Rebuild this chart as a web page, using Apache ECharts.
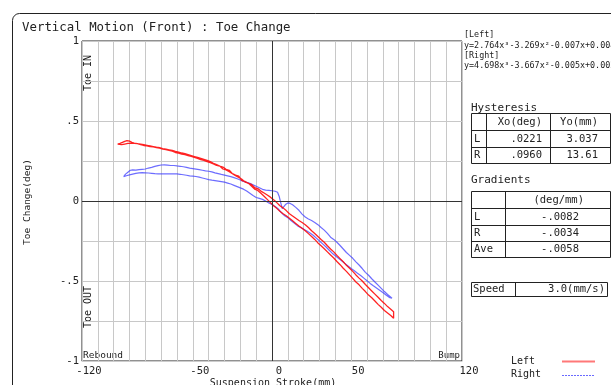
<!DOCTYPE html>
<html><head><meta charset="utf-8">
<script src="https://cdn.jsdelivr.net/npm/echarts@6/dist/echarts.min.js"></script>
<style>html,body{margin:0;padding:0;background:#fff}#c{width:611px;height:385px}</style>
</head><body><div id="c"></div>
<script>
// ---------- data ----------
const xTickLabels = [-120, -50, 0, 50, 120];
const yTickLabels = {'1': '1', '0.5': '.5', '0': '0', '-0.5': '-.5', '-1': '-1'};
const seriesNames = ['Left', 'Right'];
const leftOut = [[-97.5,0.356],[-96,0.360],[-94.5,0.366],[-93,0.373],[-91.6,0.378],[-90,0.374],[-88.5,0.366],[-87,0.362],[-85,0.358],[-83,0.352],[-81,0.347],[-79,0.345],[-77,0.340],[-75,0.338],[-73,0.333],[-71,0.330],[-69,0.324],[-67,0.321],[-65,0.316],[-63,0.311],[-61,0.303],[-59,0.299],[-57,0.293],[-55,0.290],[-53,0.284],[-51,0.279],[-49,0.272],[-47,0.266],[-45,0.258],[-43,0.254],[-41,0.246],[-39,0.240],[-37,0.232],[-35,0.222],[-33,0.218],[-31,0.200],[-29,0.194],[-27,0.183],[-25,0.171],[-23,0.162],[-21,0.155],[-19,0.128],[-17,0.122],[-15,0.110],[-13,0.104],[-11,0.084],[-9,0.078],[-7,0.062],[-5,0.050],[-3,0.037],[-1,0.024],[1,0.008],[3,-0.010],[5,-0.030],[7,-0.043],[9,-0.060],[11,-0.080],[13,-0.094],[15,-0.108],[17,-0.122],[19,-0.134],[21,-0.148],[23,-0.166],[25,-0.186],[27,-0.203],[29,-0.222],[31,-0.241],[33,-0.258],[35,-0.280],[37,-0.300],[39,-0.318],[41,-0.340],[43,-0.360],[45,-0.380],[47,-0.402],[49,-0.420],[51,-0.440],[53,-0.462],[55,-0.482],[57,-0.500],[59,-0.522],[61,-0.542],[63,-0.562],[65,-0.582],[67,-0.602],[69,-0.622],[71,-0.640],[73,-0.660],[75,-0.676],[76.8,-0.692]];
const leftBack = [[76.8,-0.733],[75,-0.716],[73,-0.700],[71,-0.684],[69,-0.664],[67,-0.646],[65,-0.625],[63,-0.605],[61,-0.588],[59,-0.566],[57,-0.546],[55,-0.524],[53,-0.506],[51,-0.484],[49,-0.462],[47,-0.440],[45,-0.420],[43,-0.398],[41,-0.378],[39,-0.356],[37,-0.338],[35,-0.318],[33,-0.298],[31,-0.280],[29,-0.262],[27,-0.240],[25,-0.222],[23,-0.204],[21,-0.186],[19,-0.170],[17,-0.156],[15,-0.140],[13,-0.124],[11,-0.108],[9,-0.092],[7,-0.080],[5,-0.064],[3,-0.046],[1,-0.030],[-1,-0.010],[-3,0.010],[-5,0.030],[-7,0.048],[-9,0.066],[-11,0.074],[-13,0.094],[-15,0.112],[-17,0.118],[-19,0.136],[-21,0.148],[-23,0.158],[-25,0.170],[-27,0.192],[-29,0.198],[-31,0.212],[-33,0.218],[-35,0.228],[-37,0.236],[-39,0.246],[-41,0.254],[-43,0.260],[-45,0.266],[-47,0.272],[-49,0.278],[-51,0.284],[-53,0.290],[-55,0.296],[-57,0.300],[-59,0.306],[-61,0.310],[-63,0.316],[-65,0.320],[-67,0.324],[-69,0.328],[-71,0.333],[-73,0.336],[-75,0.340],[-77,0.344],[-79,0.348],[-81,0.352],[-83,0.356],[-85,0.358],[-87,0.360],[-89,0.362],[-91,0.360],[-93,0.356],[-95,0.352],[-97.5,0.356]];
const rightOut = [[-93.7,0.152],[-92.5,0.168],[-91,0.180],[-89.5,0.192],[-88,0.194],[-86,0.193],[-84,0.196],[-82,0.198],[-80,0.200],[-78,0.206],[-76,0.210],[-74,0.216],[-72,0.221],[-70,0.225],[-68,0.226],[-66,0.224],[-64,0.222],[-62,0.222],[-60,0.219],[-58,0.217],[-56,0.214],[-54,0.210],[-52,0.205],[-50,0.202],[-48,0.199],[-46,0.196],[-44,0.192],[-42,0.188],[-40,0.186],[-38,0.182],[-36,0.176],[-34,0.171],[-32,0.166],[-30,0.162],[-28,0.157],[-26,0.152],[-24,0.146],[-22,0.139],[-20,0.131],[-18,0.123],[-16,0.117],[-14,0.110],[-12,0.101],[-10,0.092],[-8,0.083],[-6,0.073],[-4,0.068],[-2,0.066],[0,0.064],[2,0.061],[3.5,0.055],[4.5,0.030],[5.5,-0.010],[6.5,-0.048],[7.5,-0.040],[8.5,-0.022],[10,-0.012],[11.5,-0.015],[13,-0.024],[15,-0.040],[17,-0.058],[19,-0.082],[21,-0.100],[23,-0.112],[25,-0.122],[27,-0.134],[29,-0.148],[31,-0.166],[33,-0.182],[35,-0.202],[37,-0.226],[39,-0.240],[41,-0.258],[43,-0.278],[45,-0.300],[47,-0.322],[49,-0.340],[51,-0.358],[53,-0.380],[55,-0.400],[57,-0.422],[59,-0.446],[61,-0.464],[63,-0.486],[65,-0.506],[67,-0.526],[69,-0.546],[71,-0.566],[73,-0.584],[75.8,-0.608]];
const rightBack = [[75.8,-0.620],[74,-0.602],[72,-0.588],[70,-0.572],[68,-0.558],[66,-0.544],[64,-0.530],[62,-0.515],[60,-0.498],[58,-0.482],[56,-0.466],[54,-0.452],[52,-0.436],[50,-0.422],[48,-0.406],[46,-0.390],[44,-0.374],[42,-0.358],[40,-0.342],[38,-0.326],[36,-0.306],[34,-0.286],[32,-0.268],[30,-0.250],[28,-0.232],[26,-0.214],[24,-0.200],[22,-0.188],[20,-0.176],[18,-0.166],[16,-0.154],[14,-0.138],[12,-0.122],[10,-0.104],[8,-0.092],[6,-0.074],[4,-0.050],[2,-0.034],[0,-0.022],[-2,-0.012],[-4,0.000],[-6,0.010],[-8,0.016],[-10,0.022],[-12,0.034],[-14,0.048],[-16,0.062],[-18,0.074],[-20,0.082],[-22,0.090],[-24,0.098],[-26,0.106],[-28,0.112],[-30,0.118],[-32,0.121],[-34,0.124],[-36,0.127],[-38,0.130],[-40,0.134],[-42,0.139],[-44,0.144],[-46,0.149],[-48,0.153],[-50,0.155],[-52,0.157],[-54,0.161],[-56,0.164],[-58,0.167],[-60,0.169],[-62,0.170],[-64,0.170],[-66,0.169],[-68,0.169],[-70,0.169],[-72,0.170],[-74,0.171],[-76,0.173],[-78,0.175],[-80,0.176],[-82,0.177],[-84,0.176],[-86,0.173],[-88,0.168],[-90,0.163],[-92,0.158],[-93.7,0.152]];
const equations = ['[Left]', 'y=2.764x³-3.269x²-0.007x+0.004', '[Right]', 'y=4.698x³-3.667x²-0.005x+0.002'];
const hystHeader = ['', 'Xo(deg)', 'Yo(mm)'];
const hystRows = [['L', '.0221', '3.037'], ['R', '.0960', '13.61']];
const gradHeader = ['', '(deg/mm)'];
const gradRows = [['L', '-.0082'], ['R', '-.0034'], ['Ave', '-.0058']];
const speedCells = ['Speed', '3.0(mm/s)'];

// ---------- chart ----------
const FONT = '"DejaVu Sans Mono", monospace';
const TXT = '#222';
const chart = echarts.init(document.getElementById('c'), null, {renderer: 'canvas'});
const G = [];
function txt(x, y, s, size, align, rot, color) {
  G.push({type: 'text', x: x, y: y, rotation: rot || 0, silent: true,
    style: {text: s, font: size + 'px ' + FONT, fill: color || TXT, align: align || 'left', verticalAlign: 'middle'}});
}
function ln(x1, y1, x2, y2, color, w, dash) {
  G.push({type: 'line', silent: true, shape: {x1: x1, y1: y1, x2: x2, y2: y2},
    style: {stroke: color || '#333', lineWidth: w || 1, lineDash: dash || null}});
}
// outer frame
G.push({type: 'rect', silent: true, shape: {x: 12.5, y: 13.5, width: 640, height: 420, r: [7, 0, 0, 0]},
  style: {fill: 'none', stroke: '#222', lineWidth: 1}});
txt(22, 28, 'Vertical Motion (Front) : Toe Change', 12.4);
txt(88, 73, 'Toe IN', 10, 'center', Math.PI / 2);
txt(88, 307, 'Toe OUT', 10, 'center', Math.PI / 2);
txt(28, 202, 'Toe Change(deg)', 9.5, 'center', Math.PI / 2);
txt(83, 356, 'Rebound', 9.5, 'left');
txt(460, 356, 'Bump', 9, 'right');
txt(273, 383, 'Suspension Stroke(mm)', 10, 'center');
// equations
const eqY = [35, 45.5, 55.5, 66];
equations.forEach((s, i) => txt(464, eqY[i], s, 8.4, 'left'));
// hysteresis table
txt(471, 108, 'Hysteresis', 11);
const hx = [471.5, 486.5, 550.5, 610.5], hy = [113.5, 130.5, 147.5, 163.5];
hx.forEach(x => ln(x, hy[0], x, hy[3], '#222'));
hy.forEach(y => ln(hx[0], y, hx[3], y, '#222'));
[hystHeader].concat(hystRows).forEach((r, i) => {
  const cy = (hy[i] + hy[i + 1]) / 2;
  txt(474, cy, r[0], 10.5);
  txt(542, cy, r[1], 10.5, 'right');
  txt(598, cy, r[2], 10.5, 'right');
});
// gradients table
txt(471, 180, 'Gradients', 11);
const gx = [471.5, 505.5, 610.5], gy = [191.5, 208.5, 225.5, 241.5, 257.5];
gx.forEach(x => ln(x, gy[0], x, gy[4], '#222'));
gy.forEach(y => ln(gx[0], y, gx[2], y, '#222'));
[gradHeader].concat(gradRows).forEach((r, i) => {
  const cy = (gy[i] + gy[i + 1]) / 2;
  txt(474, cy, r[0], 10.5);
  txt(i === 0 ? 584 : 579, cy, r[1], 10.5, 'right');
});
// speed box
G.push({type: 'rect', silent: true, shape: {x: 471.5, y: 282.5, width: 136, height: 14}, style: {fill: 'none', stroke: '#222', lineWidth: 1}});
ln(515.5, 282.5, 515.5, 296.5, '#222');
txt(473, 289.5, speedCells[0], 10.5);
txt(605, 289.5, speedCells[1], 10.5, 'right');
// legend
txt(511, 361, seriesNames[0], 10);
txt(511, 374.5, seriesNames[1], 10);
ln(562, 361.5, 595, 361.5, '#ff7878', 2);
ln(562, 375.5, 595, 375.5, '#6a6aff', 1, [2, 1]);

const zeroLines = {silent: true, symbol: 'none', label: {show: false},
  lineStyle: {color: '#333', width: 1, type: 'solid'},
  data: [{xAxis: 0}, {yAxis: 0}]};

chart.setOption({
  animation: false,
  backgroundColor: '#fff',
  grid: {left: 82, top: 41, width: 380, height: 320, show: true, borderColor: '#222', borderWidth: 1, backgroundColor: 'transparent'},
  xAxis: {type: 'value', min: -120, max: 120, interval: 10,
    axisLine: {show: true, onZero: false, lineStyle: {color: '#ccc'}},
    axisTick: {show: false},
    splitLine: {show: true, lineStyle: {color: '#c8c8c8', width: 1}},
    axisLabel: {margin: 5, fontFamily: FONT, fontSize: 10.5, color: TXT, padding: [0, 0, 0, 14],
      formatter: v => xTickLabels.indexOf(v) >= 0 ? String(v) : ''}},
  yAxis: {type: 'value', min: -1, max: 1, interval: 0.25,
    axisLine: {show: false}, axisTick: {show: false},
    splitLine: {show: true, lineStyle: {color: '#c8c8c8', width: 1}},
    axisLabel: {margin: 3, fontFamily: FONT, fontSize: 10.5, color: TXT,
      formatter: v => { const k = String(+v.toFixed(2)); return yTickLabels[k] !== undefined ? yTickLabels[k] : ''; }}},
  series: [
    {name: seriesNames[0], type: 'line', showSymbol: false, data: leftOut.concat(leftBack),
      lineStyle: {color: 'rgba(255,10,10,0.9)', width: 1.3}, z: 3, markLine: zeroLines},
    {name: seriesNames[1], type: 'line', showSymbol: false, data: rightOut.concat(rightBack),
      lineStyle: {color: 'rgba(60,60,255,0.75)', width: 1.2}, z: 2}
  ],
  graphic: G
});
</script></body></html>
